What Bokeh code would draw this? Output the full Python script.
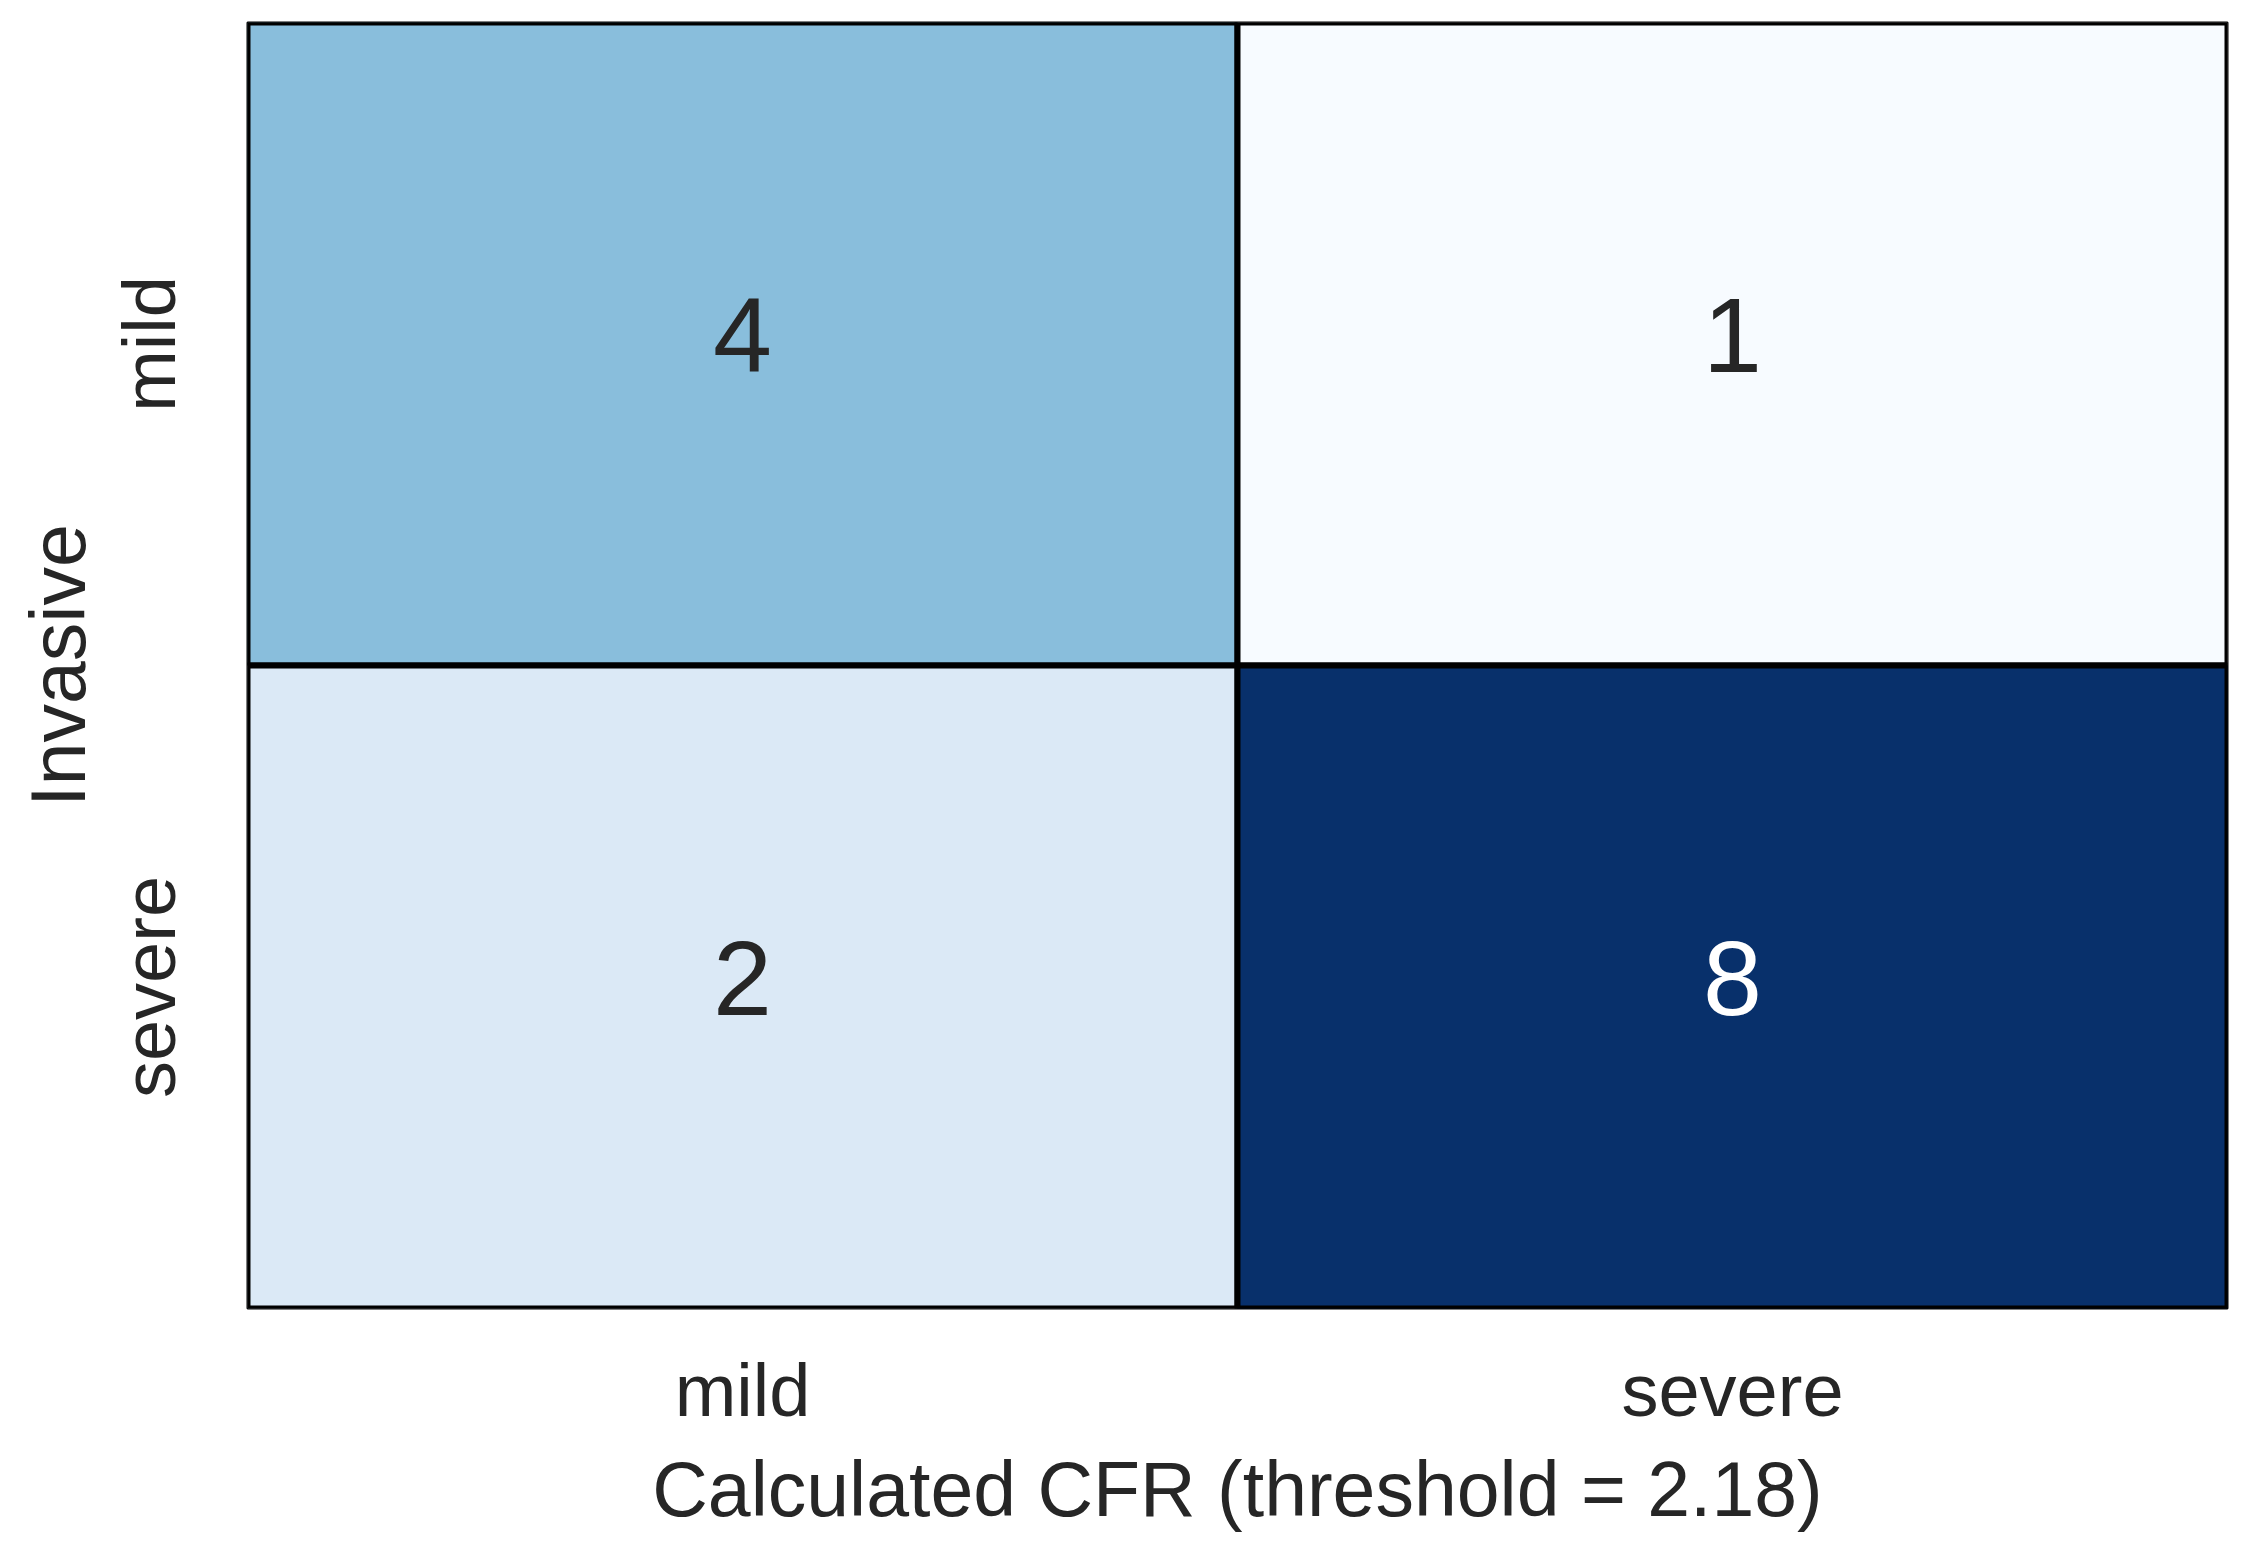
from bokeh.plotting import figure
from bokeh.models import ColumnDataSource, FactorRange, LinearColorMapper
from bokeh.palettes import Blues256
from bokeh.core.properties import value
from bokeh.embed import file_html
from bokeh.resources import INLINE

# ---- data ----
cfr_categories = ["mild", "severe"]          # x: Calculated CFR
invasive_categories = ["mild", "severe"]     # y: Invasive
counts = [
    [4, 1],   # invasive mild   -> CFR mild, CFR severe
    [2, 8],   # invasive severe -> CFR mild, CFR severe
]
x_label = "Calculated CFR (threshold = 2.18)"
y_label = "Invasive"

# ---- table for the glyphs ----
xs, ys, vals, labels, tcolors = [], [], [], [], []
vmin = min(min(r) for r in counts)
vmax = max(max(r) for r in counts)
for i, inv in enumerate(invasive_categories):
    for j, cfr in enumerate(cfr_categories):
        v = counts[i][j]
        xs.append(cfr)
        ys.append(inv)
        vals.append(v)
        labels.append(str(v))
        tcolors.append("white" if (v - vmin) / (vmax - vmin) > 0.6 else "#262626")

src = ColumnDataSource(dict(x=xs, y=ys, v=vals, label=labels, tc=tcolors))

palette = list(Blues256)
# make light -> dark
if palette[0].lower().startswith("#08"):
    palette = palette[::-1]
mapper = LinearColorMapper(palette=palette, low=vmin, high=vmax)

FONT = "Liberation Sans"
TXT = "#262626"

p = figure(
    x_range=FactorRange(*cfr_categories),
    y_range=FactorRange(*invasive_categories[::-1]),
    width=2239, height=1536,
    output_backend="svg", toolbar_location=None,
    min_border_left=247, min_border_right=12,
    min_border_top=22, min_border_bottom=228,
)

p.rect(x="x", y="y", width=1, height=1, source=src,
       fill_color={"field": "v", "transform": mapper},
       line_color="black", line_width=6)

p.text(x="x", y="y", text="label", source=src,
       text_align="center", text_baseline="middle",
       text_font=value(FONT), text_font_size="106px",
       text_color="tc", y_offset=-9)

p.outline_line_color = "black"
p.outline_line_width = 2
p.grid.visible = False
p.background_fill_color = "white"
p.border_fill_color = "white"

for ax in (p.xaxis[0], p.yaxis[0]):
    ax.axis_line_color = None
    ax.major_tick_line_color = None
    ax.minor_tick_line_color = None
    ax.major_tick_in = 0
    ax.major_tick_out = 0
    ax.major_label_text_font = FONT
    ax.major_label_text_font_size = "74px"
    ax.major_label_text_color = TXT
    ax.axis_label_text_font = FONT
    ax.axis_label_text_font_size = "77px"
    ax.axis_label_text_font_style = "normal"
    ax.axis_label_text_color = TXT

p.xaxis[0].axis_label = x_label
p.yaxis[0].axis_label = y_label
p.xaxis[0].major_label_standoff = 40
p.xaxis[0].axis_label_standoff = 11
p.yaxis[0].major_label_orientation = "vertical"
p.yaxis[0].major_label_standoff = 57
p.yaxis[0].axis_label_standoff = 4

open("out.html", "w").write(file_html(p, INLINE))
